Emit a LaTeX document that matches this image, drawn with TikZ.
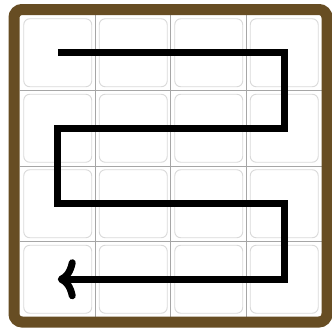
\documentclass[tikz,border=0pt]{standalone}
\usetikzlibrary{arrows.meta}
\definecolor{frameBrown}{RGB}{103,77,35}
\begin{document}
\begin{tikzpicture}[x=1pt, y=-1pt,
    cell/.style={draw=gray!30, line width=0.9pt, rounded corners=6pt,
                 minimum size=68pt, inner sep=0pt},
    gridline/.style={draw=gray!70, line width=1pt},
    frame/.style={draw=frameBrown, line width=11pt, rounded corners=8pt},
    walk/.style={line width=7pt,
                 -{Computer Modern Rightarrow[round, length=18pt, width=40pt]}}
]
\useasboundingbox (0,0) rectangle (332,327);
\fill[white] (0,0) rectangle (332,327);
% cells
\foreach \r in {0,...,3}
  \foreach \c in {0,...,3}
    \node[cell] (c\r\c) at ({57.75+75.5*\c},{52.75+75.5*\r}) {};
% grid lines
\foreach \k in {1,2,3} {
  \draw[gridline] ({19.5+75.5*\k},15) -- ({19.5+75.5*\k},317);
  \draw[gridline] (19.5,{15+75.5*\k}) -- (322,{15+75.5*\k});
}
\draw[frame] (14,9.5) rectangle (327,322);
% snake path
\draw[walk] (c00.center) -- (c03.center) -- (c13.center) -- (c10.center)
    -- (c20.center) -- (c23.center) -- (c33.center) -- (c30.center);
\end{tikzpicture}
\end{document}
